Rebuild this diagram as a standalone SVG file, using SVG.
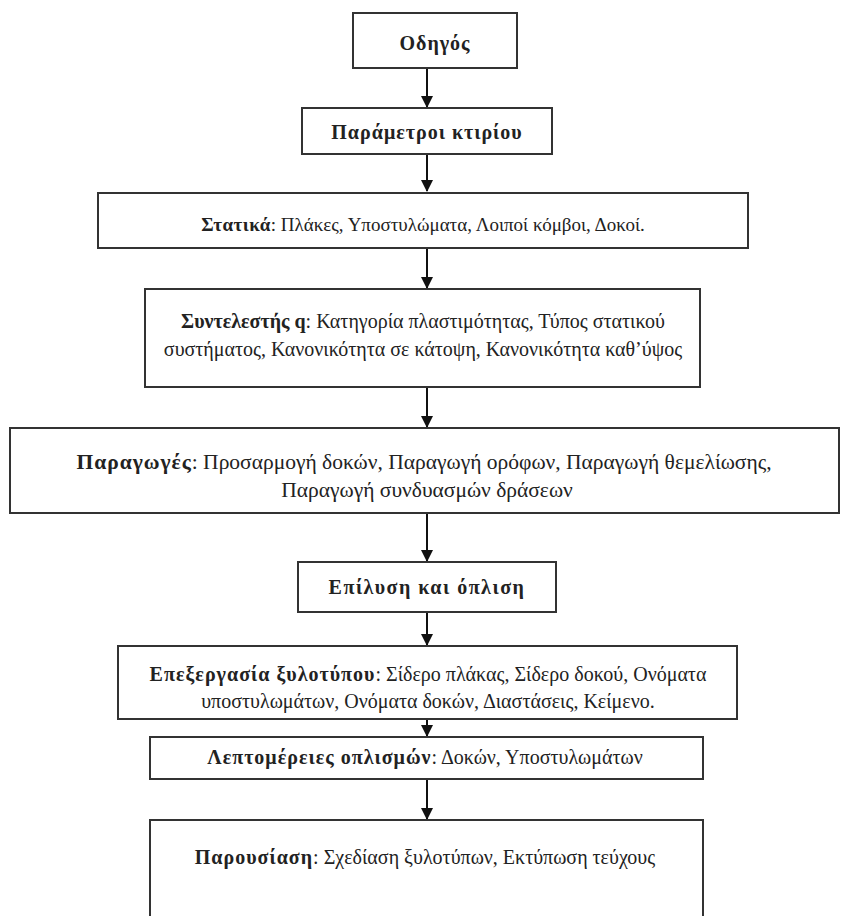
<svg xmlns="http://www.w3.org/2000/svg" width="850" height="916" viewBox="0 0 850 916">
<style>
.box{fill:#fff;stroke:#333;stroke-width:2}
.t{font-family:"Liberation Serif","Times New Roman",serif;font-size:20px;fill:#222;text-anchor:middle}
.b{font-weight:bold;letter-spacing:1px}
.n{letter-spacing:0.3px}
.c{stroke:#111;stroke-width:2;fill:none}
</style>
<defs>
<marker id="ah" markerWidth="12" markerHeight="12" refX="11" refY="6" orient="auto" markerUnits="userSpaceOnUse">
<path d="M0,0 L12,6 L0,12 Z" fill="#111"/>
</marker>
</defs>
<rect width="850" height="916" fill="#fff"/>
<g id="connectors">
<line class="c" x1="427" y1="68" x2="427" y2="107" marker-end="url(#ah)"/>
<line class="c" x1="427" y1="154" x2="427" y2="191" marker-end="url(#ah)"/>
<line class="c" x1="427" y1="248" x2="427" y2="288" marker-end="url(#ah)"/>
<line class="c" x1="427" y1="387" x2="427" y2="427" marker-end="url(#ah)"/>
<line class="c" x1="427" y1="513" x2="427" y2="561" marker-end="url(#ah)"/>
<line class="c" x1="427" y1="612" x2="427" y2="645" marker-end="url(#ah)"/>
<line class="c" x1="427" y1="719" x2="427" y2="736" marker-end="url(#ah)"/>
<line class="c" x1="427" y1="779" x2="427" y2="819" marker-end="url(#ah)"/>
</g>
<g id="n1"><rect class="box" x="353" y="13" width="164" height="55"/><text class="t b" x="435" y="50">Οδηγός</text></g>
<g id="n2"><rect class="box" x="302" y="108" width="250" height="46"/><text class="t b" x="427" y="139">Παράμετροι κτιρίου</text></g>
<g id="n3"><rect class="box" x="98" y="193" width="650" height="55"/><text class="t" x="423" y="231" style="font-size:19px"><tspan class="b" style="letter-spacing:0.5px">Στατικά</tspan>: Πλάκες, Υποστυλώματα, Λοιποί κόμβοι, Δοκοί.</text></g>
<g id="n4"><rect class="box" x="145" y="289" width="555" height="98"/><text class="t" x="423" y="328"><tspan class="b" style="letter-spacing:0px">Συντελεστής q</tspan>: Κατηγορία πλαστιμότητας, Τύπος στατικού</text><text class="t" x="423" y="356">συστήματος, Κανονικότητα σε κάτοψη, Κανονικότητα καθ’ύψος</text></g>
<g id="n5"><rect class="box" x="10" y="428" width="829" height="85"/><text class="t" x="424" y="469" style="font-size:21.5px"><tspan class="b">Παραγωγές</tspan>: Προσαρμογή δοκών, Παραγωγή ορόφων, Παραγωγή θεμελίωσης,</text><text class="t" x="427" y="497" style="font-size:21.5px">Παραγωγή συνδυασμών δράσεων</text></g>
<g id="n6"><rect class="box" x="298" y="562" width="258" height="50"/><text class="t b" x="427" y="594" style="letter-spacing:1.5px">Επίλυση και όπλιση</text></g>
<g id="n7"><rect class="box" x="118" y="646" width="619" height="73"/><text class="t" x="428" y="681"><tspan class="b">Επεξεργασία ξυλοτύπου</tspan>: Σίδερο πλάκας, Σίδερο δοκού, Ονόματα</text><text class="t" x="428" y="708">υποστυλωμάτων, Ονόματα δοκών, Διαστάσεις, Κείμενο.</text></g>
<g id="n8"><rect class="box" x="150" y="737" width="553" height="42"/><text class="t" x="425" y="764"><tspan class="b">Λεπτομέρειες οπλισμών</tspan>: Δοκών, Υποστυλωμάτων</text></g>
<g id="n9"><rect class="box" x="150" y="820" width="553" height="110"/><text class="t" x="425" y="864"><tspan class="b">Παρουσίαση</tspan>: Σχεδίαση ξυλοτύπων, Εκτύπωση τεύχους</text></g>
</svg>
